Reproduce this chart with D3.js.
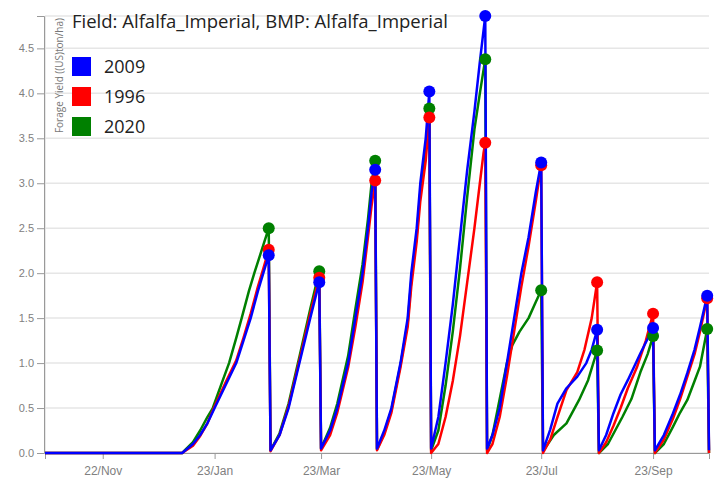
<!DOCTYPE html>
<html>
<head>
<meta charset="utf-8">
<script src="https://cdn.jsdelivr.net/npm/d3@7"></script>
<style>
  body { margin: 0; background: #fff; }
  svg { display: block; font-family: 'Open Sans', sans-serif; }
  .grid line { stroke: #e6e6e6; stroke-width: 1.5px; }
  .axis text { fill: #808080; font-size: 11px; }
  .axis line, .axis path { stroke: #999; }
</style>
</head>
<body>
<div id="chart"></div>
<script>
// season starts 21 Oct, points are [day since start, yield]
const seasonStart = new Date(2021, 9, 21)
const seasonEnd = new Date(2022, 9, 24)

const seriesNames = ['2009', '1996', '2020']
const seriesColors = ['blue', 'red', 'green']
const cutDays = [124, 152, 183, 213, 244, 275, 306, 337, 367]

const yield2009 = [
  [0, 0], [76, 0],
  [82, 0.1], [86, 0.2], [90, 0.33], [94, 0.5], [100, 0.75], [106, 1.0], [110, 1.25], [114, 1.5], [118, 1.8], [121, 2.0], [124, 2.2],
  [125, 0.03], [130, 0.2], [135, 0.5], [141, 1.0], [147, 1.5], [152, 1.9],
  [153, 0.05], [158, 0.25], [162, 0.5], [168, 1.0], [172, 1.5], [176, 2.0], [179, 2.5], [181, 2.9], [183, 3.15],
  [184, 0.05], [188, 0.25], [192, 0.5], [197, 1.0], [201, 1.5], [203, 2.0], [206, 2.5], [208, 3.0], [211, 3.5], [213, 4.02],
  [214, 0.05], [218, 0.4], [222, 1.0], [226, 1.65], [230, 2.4], [234, 3.15], [238, 3.8], [241, 4.35], [244, 4.86],
  [245, 0.05], [248, 0.2], [252, 0.5], [256, 1.0], [260, 1.5], [264, 2.0], [268, 2.4], [272, 2.9], [275, 3.23],
  [276, 0.03], [280, 0.26], [284, 0.55], [289, 0.72], [295, 0.85], [300, 1.0], [303, 1.15], [306, 1.37],
  [307, 0.03], [311, 0.2], [315, 0.44], [319, 0.65], [323, 0.81], [330, 1.11], [337, 1.39],
  [338, 0.03], [343, 0.2], [348, 0.44], [352, 0.65], [356, 0.89], [360, 1.15], [363, 1.4], [367, 1.75], [368, 0.03]
]

const yield1996 = [
  [0, 0], [76, 0],
  [82, 0.08], [86, 0.19], [90, 0.33], [94, 0.52], [100, 0.78], [106, 1.03], [110, 1.28], [114, 1.55], [118, 1.85], [121, 2.05], [124, 2.26],
  [125, 0.02], [130, 0.2], [135, 0.52], [141, 1.03], [147, 1.55], [152, 1.95],
  [153, 0.03], [158, 0.2], [162, 0.45], [168, 0.95], [172, 1.4], [176, 1.9], [179, 2.4], [181, 2.75], [183, 3.03],
  [184, 0.03], [188, 0.2], [192, 0.45], [197, 0.95], [201, 1.4], [203, 1.85], [206, 2.35], [208, 2.8], [211, 3.25], [213, 3.73],
  [214, 0.0], [218, 0.1], [222, 0.4], [226, 0.8], [230, 1.3], [234, 1.9], [238, 2.5], [241, 3.0], [243, 3.33], [244, 3.45],
  [245, 0.0], [248, 0.1], [252, 0.4], [256, 0.85], [260, 1.35], [264, 1.85], [268, 2.3], [272, 2.8], [275, 3.2],
  [276, 0.0], [280, 0.15], [284, 0.4], [289, 0.7], [295, 0.9], [299, 1.15], [303, 1.5], [306, 1.9],
  [307, 0.0], [311, 0.12], [315, 0.3], [319, 0.5], [323, 0.72], [328, 0.95], [333, 1.25], [337, 1.55],
  [338, 0.0], [343, 0.15], [348, 0.38], [352, 0.6], [356, 0.85], [360, 1.1], [363, 1.35], [367, 1.72], [368, 0.0]
]

const yield2020 = [
  [0, 0], [76, 0],
  [82, 0.12], [86, 0.25], [90, 0.4], [93, 0.5], [98, 0.78], [102, 1.0], [106, 1.28], [109, 1.5], [113, 1.8], [116, 2.0], [120, 2.25], [124, 2.5],
  [125, 0.03], [130, 0.22], [135, 0.55], [141, 1.07], [147, 1.6], [152, 2.02],
  [153, 0.05], [158, 0.28], [162, 0.55], [168, 1.08], [172, 1.6], [176, 2.1], [179, 2.6], [181, 3.0], [183, 3.25],
  [184, 0.04], [188, 0.22], [192, 0.48], [197, 0.98], [201, 1.45], [203, 1.92], [206, 2.42], [208, 2.9], [211, 3.38], [213, 3.83],
  [214, 0.03], [218, 0.25], [222, 0.75], [226, 1.35], [230, 2.05], [234, 2.85], [238, 3.6], [241, 4.0], [244, 4.38],
  [245, 0.03], [248, 0.2], [252, 0.6], [256, 1.0], [259, 1.2], [263, 1.35], [268, 1.5], [272, 1.68], [275, 1.81],
  [276, 0.02], [282, 0.2], [289, 0.33], [296, 0.59], [301, 0.81], [306, 1.14],
  [307, 0.0], [312, 0.1], [316, 0.25], [320, 0.4], [325, 0.6], [330, 0.9], [334, 1.1], [337, 1.3],
  [338, 0.0], [343, 0.1], [348, 0.29], [352, 0.45], [356, 0.59], [360, 0.8], [363, 0.96], [367, 1.38], [368, 0.0]
]

const xTickDates = [[2021, 10, 22], [2022, 0, 23], [2022, 2, 23], [2022, 4, 23], [2022, 6, 23], [2022, 8, 23]]
const yTicks = [0, 0.5, 1, 1.5, 2, 2.5, 3, 3.5, 4, 4.5]
const title = 'Field: Alfalfa_Imperial, BMP: Alfalfa_Imperial'
const yLabel = 'Forage Yield ((US)ton/ha)'

const width = 718
const height = 483
const margin = {left: 45, right: 9, top: 16, bottom: 30}

const allSeries = [yield2009, yield1996, yield2020]
const yMax = d3.max(allSeries, s => d3.max(s, p => p[1]))

const dayToDate = d => d3.timeDay.offset(seasonStart, d)

const x = d3.scaleTime()
  .domain([seasonStart, seasonEnd])
  .range([margin.left, width - margin.right])

const y = d3.scaleLinear()
  .domain([0, yMax])
  .range([height - margin.bottom, margin.top])

const svg = d3.select('#chart').append('svg')
  .attr('width', width)
  .attr('height', height)

// horizontal grid, plus a line on top of the plot
svg.append('g')
  .attr('class', 'grid')
  .selectAll('line')
  .data(yTicks.concat([yMax]))
  .join('line')
  .attr('x1', margin.left)
  .attr('x2', width - margin.right)
  .attr('y1', d => y(d))
  .attr('y2', d => y(d))

svg.append('line')
  .attr('x1', margin.left).attr('x2', margin.left)
  .attr('y1', margin.top).attr('y2', height - margin.bottom)
  .attr('stroke', '#e0e0e0').attr('stroke-width', 1.5)

const yAxis = svg.append('g')
  .attr('class', 'axis')
  .attr('transform', 'translate(' + (margin.left - 1) + ',0)')
  .call(d3.axisLeft(y).tickValues(yTicks).tickFormat(d3.format('.1f')).tickSizeOuter(7).tickSize(7))
yAxis.select('.domain').attr('stroke', '#e0e0e0')

const xAxis = svg.append('g')
  .attr('class', 'axis')
  .attr('transform', 'translate(0,' + (height - margin.bottom) + ')')
  .call(d3.axisBottom(x)
    .tickValues(xTickDates.map(t => new Date(t[0], t[1], t[2])))
    .tickFormat(d3.timeFormat('%d/%b'))
    .tickSizeOuter(0)
    .tickSize(6))
xAxis.select('.domain').attr('stroke', '#d0d0d0')
xAxis.selectAll('text').attr('dy', '1.1em').style('font-size', '12px')

// draw from last to first so 2009 ends on top
const line = d3.line()
  .x(p => x(dayToDate(p[0])))
  .y(p => y(p[1]))

const order = [2, 1, 0]
order.forEach(i => {
  svg.append('path')
    .datum(allSeries[i])
    .attr('fill', 'none')
    .attr('stroke', seriesColors[i])
    .attr('stroke-width', 2.5)
    .attr('stroke-linejoin', 'round')
    .attr('d', line)
})

order.forEach(i => {
  svg.append('g')
    .selectAll('circle')
    .data(allSeries[i].filter(p => cutDays.includes(p[0])))
    .join('circle')
    .attr('cx', p => x(dayToDate(p[0])))
    .attr('cy', p => y(p[1]))
    .attr('r', 6)
    .attr('fill', seriesColors[i])
})

// y label sits inside the plot, top left
svg.append('text')
  .attr('transform', 'translate(63,' + (margin.top + 2) + ') rotate(-90)')
  .attr('text-anchor', 'end')
  .attr('font-size', 10)
  .attr('fill', '#777')
  .text(yLabel)

svg.append('text')
  .attr('x', 72)
  .attr('y', 28)
  .attr('font-size', 18.5)
  .attr('fill', '#222')
  .text(title)

const legend = svg.append('g')
  .attr('transform', 'translate(72,57)')

const legendItem = legend.selectAll('g')
  .data(seriesNames)
  .join('g')
  .attr('transform', (d, i) => 'translate(0,' + (i * 30) + ')')

legendItem.append('rect')
  .attr('width', 19)
  .attr('height', 19)
  .attr('fill', (d, i) => seriesColors[i])

legendItem.append('text')
  .attr('x', 32)
  .attr('y', 16)
  .attr('font-size', 18)
  .attr('fill', '#222')
  .text(d => d)
</script>
</body>
</html>
